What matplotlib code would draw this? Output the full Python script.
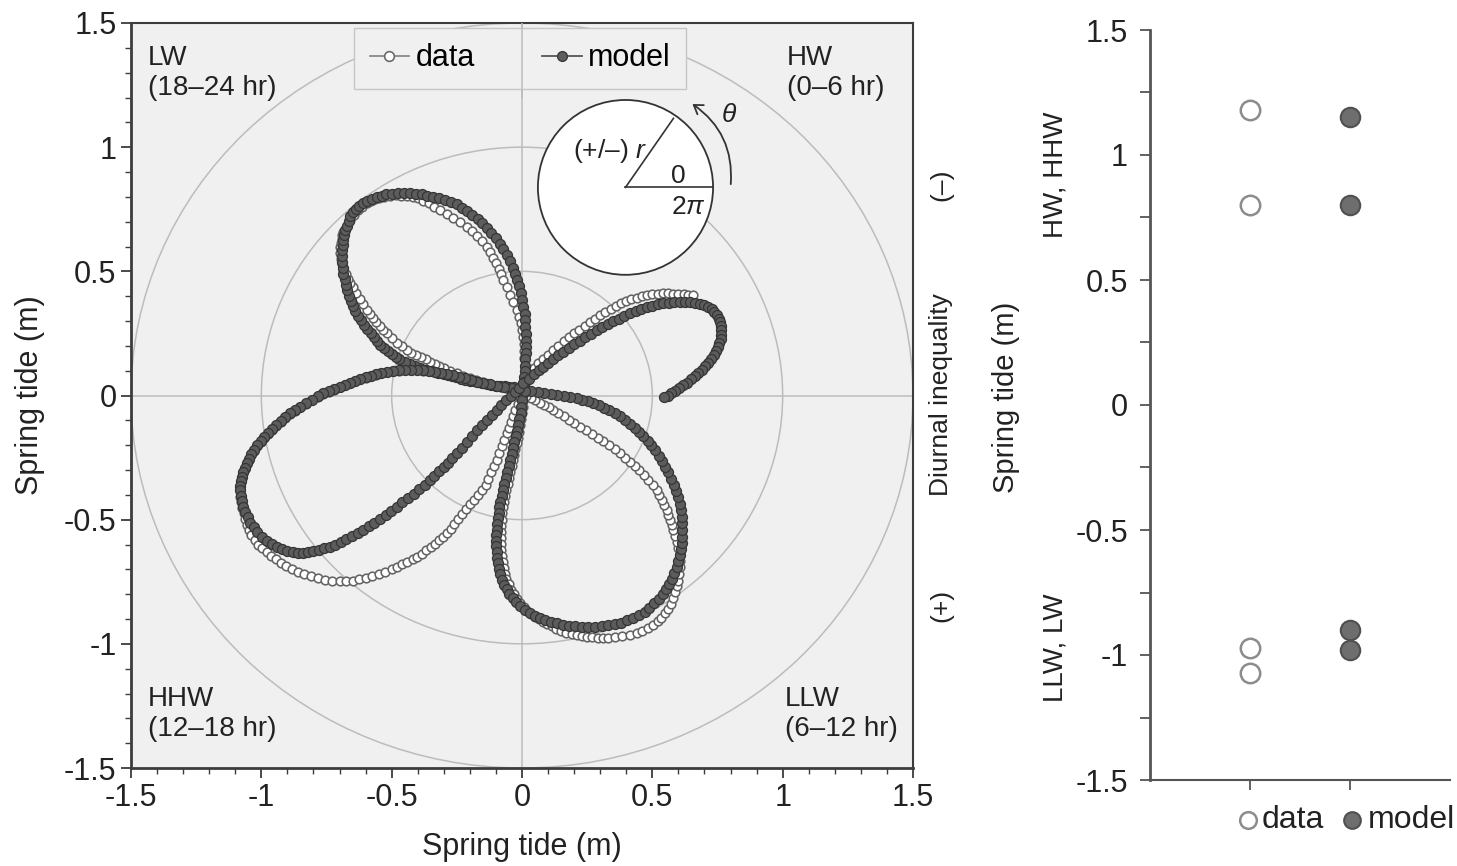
import matplotlib
matplotlib.use('Agg')
import matplotlib.pyplot as plt
from matplotlib.patches import Circle, Ellipse, FancyArrowPatch
from matplotlib.lines import Line2D
from matplotlib.ticker import MultipleLocator

plt.rcParams['font.family'] = ['Liberation Sans', 'DejaVu Sans']
plt.rcParams['mathtext.fontset'] = 'custom'
plt.rcParams['mathtext.rm'] = 'Liberation Sans'
plt.rcParams['mathtext.it'] = 'Liberation Sans:italic'

# ---------------- data (marker positions) ----------------
# model curve (filled markers), ordered along the path
model_pts = [
    (0.01, 0.03), (-0.01, 0.032), (-0.03, 0.033), (-0.048, 0.035), (-0.065, 0.037), (-0.083, 0.039),
    (-0.10, 0.04), (-0.118, 0.044), (-0.135, 0.047), (-0.153, 0.05), (-0.17, 0.053), (-0.185, 0.057),
    (-0.20, 0.06), (-0.218, 0.064), (-0.235, 0.068), (-0.253, 0.073), (-0.27, 0.077), (-0.285, 0.081),
    (-0.30, 0.085), (-0.323, 0.091), (-0.345, 0.097), (-0.368, 0.104), (-0.39, 0.11), (-0.41, 0.119),
    (-0.43, 0.127), (-0.45, 0.136), (-0.47, 0.145), (-0.485, 0.156), (-0.50, 0.167), (-0.515, 0.179),
    (-0.53, 0.19), (-0.543, 0.205), (-0.555, 0.22), (-0.568, 0.235), (-0.58, 0.25), (-0.593, 0.268),
    (-0.605, 0.285), (-0.618, 0.303), (-0.63, 0.32), (-0.639, 0.34), (-0.648, 0.36), (-0.657, 0.38),
    (-0.665, 0.40), (-0.67, 0.423), (-0.675, 0.445), (-0.68, 0.468), (-0.685, 0.49), (-0.688, 0.514),
    (-0.69, 0.537), (-0.69, 0.561), (-0.69, 0.585), (-0.688, 0.605), (-0.685, 0.625), (-0.683, 0.645),
    (-0.68, 0.665), (-0.673, 0.684), (-0.665, 0.703), (-0.658, 0.722), (-0.65, 0.74), (-0.638, 0.753),
    (-0.625, 0.765), (-0.61, 0.775), (-0.595, 0.785), (-0.577, 0.793), (-0.558, 0.80), (-0.539, 0.805),
    (-0.52, 0.81), (-0.498, 0.813), (-0.475, 0.815), (-0.453, 0.815), (-0.43, 0.815), (-0.408, 0.813),
    (-0.385, 0.81), (-0.363, 0.805), (-0.34, 0.80), (-0.318, 0.794), (-0.295, 0.787), (-0.273, 0.779),
    (-0.25, 0.77), (-0.23, 0.756), (-0.21, 0.742), (-0.19, 0.726), (-0.17, 0.71), (-0.153, 0.693),
    (-0.135, 0.675), (-0.118, 0.655), (-0.10, 0.635), (-0.086, 0.612), (-0.072, 0.588), (-0.059, 0.564),
    (-0.045, 0.54), (-0.036, 0.515), (-0.027, 0.49), (-0.019, 0.465), (-0.01, 0.44), (-0.005, 0.413),
    (0.0, 0.385), (0.005, 0.358), (0.01, 0.33), (0.012, 0.303), (0.013, 0.275), (0.014, 0.248),
    (0.015, 0.22), (0.015, 0.195), (0.014, 0.17), (0.013, 0.145), (0.012, 0.12), (0.01, 0.098),
    (0.008, 0.075), (0.007, 0.053), (0.005, 0.03),
    (0.003, 0.005), (0.0, -0.02), (-0.003, -0.045), (-0.005, -0.07), (-0.01, -0.094), (-0.014, -0.118),
    (-0.019, -0.142), (-0.023, -0.165), (-0.029, -0.189), (-0.034, -0.213), (-0.04, -0.237), (-0.045, -0.26),
    (-0.051, -0.284), (-0.057, -0.308), (-0.063, -0.332), (-0.068, -0.355), (-0.073, -0.379), (-0.078, -0.403),
    (-0.083, -0.427), (-0.087, -0.45), (-0.09, -0.473), (-0.093, -0.495), (-0.095, -0.518), (-0.097, -0.54),
    (-0.098, -0.563), (-0.098, -0.585), (-0.098, -0.608), (-0.097, -0.63), (-0.094, -0.653), (-0.091, -0.675),
    (-0.087, -0.698), (-0.083, -0.72), (-0.076, -0.741), (-0.068, -0.762), (-0.059, -0.781), (-0.05, -0.80),
    (-0.036, -0.817), (-0.022, -0.833), (-0.006, -0.848), (0.01, -0.862), (0.03, -0.874), (0.05, -0.886),
    (0.07, -0.896), (0.09, -0.905), (0.113, -0.912), (0.135, -0.918), (0.158, -0.923), (0.18, -0.927),
    (0.205, -0.929), (0.23, -0.931), (0.255, -0.932), (0.28, -0.932), (0.305, -0.929), (0.33, -0.926),
    (0.355, -0.921), (0.38, -0.915), (0.403, -0.905), (0.425, -0.895), (0.448, -0.883), (0.47, -0.87),
    (0.489, -0.854), (0.507, -0.837), (0.524, -0.819), (0.54, -0.80), (0.553, -0.779), (0.565, -0.758),
    (0.575, -0.737), (0.585, -0.715), (0.593, -0.692), (0.60, -0.668), (0.605, -0.644), (0.61, -0.62),
    (0.613, -0.594), (0.615, -0.568), (0.615, -0.542), (0.615, -0.515), (0.613, -0.489), (0.61, -0.462),
    (0.605, -0.436), (0.60, -0.41), (0.591, -0.385), (0.582, -0.36), (0.571, -0.335), (0.56, -0.31),
    (0.549, -0.288), (0.537, -0.265), (0.524, -0.243), (0.51, -0.22), (0.496, -0.201), (0.482, -0.182),
    (0.466, -0.164), (0.45, -0.145), (0.432, -0.129), (0.413, -0.113), (0.394, -0.098), (0.375, -0.083),
    (0.355, -0.072), (0.335, -0.06), (0.315, -0.05), (0.295, -0.04), (0.274, -0.032), (0.253, -0.024),
    (0.232, -0.017), (0.21, -0.01), (0.185, -0.005), (0.16, 0.0), (0.135, 0.004), (0.11, 0.008),
    (0.085, 0.011), (0.06, 0.014), (0.035, 0.017), (0.01, 0.02),
    (-0.015, 0.025), (-0.04, 0.03), (-0.068, 0.035), (-0.095, 0.04), (-0.122, 0.045), (-0.148, 0.049),
    (-0.172, 0.056), (-0.195, 0.062), (-0.219, 0.069), (-0.243, 0.075), (-0.266, 0.081), (-0.289, 0.087),
    (-0.312, 0.091), (-0.335, 0.095), (-0.358, 0.098), (-0.38, 0.101), (-0.403, 0.102), (-0.425, 0.103),
    (-0.448, 0.102), (-0.47, 0.101), (-0.495, 0.099), (-0.519, 0.096), (-0.54, 0.091), (-0.56, 0.085),
    (-0.58, 0.079), (-0.60, 0.073), (-0.62, 0.067), (-0.64, 0.06), (-0.66, 0.052), (-0.68, 0.043),
    (-0.70, 0.035), (-0.72, 0.026), (-0.741, 0.018), (-0.762, 0.009), (-0.784, -0.004), (-0.805, -0.017),
    (-0.828, -0.031), (-0.85, -0.045), (-0.87, -0.059), (-0.89, -0.072), (-0.908, -0.088), (-0.925, -0.103),
    (-0.943, -0.119), (-0.96, -0.135), (-0.975, -0.151), (-0.99, -0.166), (-1.003, -0.183), (-1.015, -0.20),
    (-1.028, -0.219), (-1.04, -0.237), (-1.048, -0.255), (-1.056, -0.273), (-1.063, -0.292), (-1.07, -0.31),
    (-1.074, -0.328), (-1.078, -0.345), (-1.08, -0.363), (-1.082, -0.38), (-1.079, -0.403), (-1.076, -0.425),
    (-1.069, -0.448), (-1.062, -0.47), (-1.053, -0.491), (-1.043, -0.512), (-1.029, -0.531), (-1.015, -0.55),
    (-0.998, -0.568), (-0.98, -0.585), (-0.96, -0.599), (-0.94, -0.612), (-0.92, -0.62), (-0.90, -0.628),
    (-0.88, -0.632), (-0.86, -0.635), (-0.84, -0.634), (-0.82, -0.632), (-0.80, -0.627), (-0.78, -0.622),
    (-0.759, -0.616), (-0.737, -0.609), (-0.716, -0.60), (-0.695, -0.59), (-0.674, -0.578), (-0.652, -0.566),
    (-0.631, -0.554), (-0.609, -0.541), (-0.588, -0.527), (-0.566, -0.512), (-0.545, -0.496), (-0.523, -0.48),
    (-0.502, -0.464), (-0.48, -0.447), (-0.459, -0.43), (-0.437, -0.413), (-0.416, -0.395), (-0.395, -0.377),
    (-0.374, -0.359), (-0.353, -0.34), (-0.336, -0.323), (-0.318, -0.305), (-0.301, -0.288), (-0.284, -0.27),
    (-0.267, -0.252), (-0.25, -0.233), (-0.231, -0.21), (-0.212, -0.186), (-0.193, -0.163), (-0.174, -0.139),
    (-0.155, -0.119), (-0.135, -0.098), (-0.116, -0.078), (-0.097, -0.058), (-0.079, -0.039), (-0.06, -0.02),
    (-0.043, -0.003), (-0.025, 0.015), (-0.01, 0.032), (0.005, 0.049),
    (0.025, 0.067), (0.045, 0.085), (0.064, 0.101), (0.082, 0.116), (0.101, 0.132), (0.12, 0.147),
    (0.14, 0.162), (0.159, 0.177), (0.18, 0.192), (0.20, 0.206), (0.222, 0.221), (0.243, 0.235),
    (0.265, 0.249), (0.286, 0.262), (0.308, 0.275), (0.33, 0.288), (0.351, 0.299), (0.372, 0.31),
    (0.393, 0.321), (0.414, 0.331), (0.436, 0.34), (0.457, 0.348), (0.479, 0.355), (0.50, 0.362),
    (0.521, 0.367), (0.542, 0.371), (0.564, 0.374), (0.585, 0.377), (0.605, 0.378), (0.625, 0.378),
    (0.645, 0.376), (0.665, 0.374), (0.683, 0.369), (0.70, 0.364), (0.714, 0.356), (0.728, 0.348),
    (0.738, 0.337), (0.748, 0.325), (0.754, 0.31), (0.76, 0.295), (0.763, 0.279), (0.765, 0.262),
    (0.764, 0.245), (0.762, 0.228), (0.757, 0.212), (0.752, 0.195), (0.744, 0.179), (0.735, 0.163),
    (0.725, 0.148), (0.714, 0.132), (0.702, 0.118), (0.69, 0.103), (0.677, 0.09), (0.663, 0.077),
    (0.649, 0.065), (0.634, 0.052), (0.619, 0.041), (0.603, 0.029), (0.588, 0.019), (0.572, 0.009),
    (0.559, 0.0), (0.545, -0.008),
]

# observed data curve (open markers), ordered along the path
data_pts = [
    (0.0, 0.02), (-0.025, 0.025), (-0.05, 0.03), (-0.075, 0.035), (-0.10, 0.04), (-0.125, 0.048),
    (-0.15, 0.055), (-0.175, 0.063), (-0.20, 0.07), (-0.225, 0.08), (-0.25, 0.09), (-0.275, 0.10),
    (-0.30, 0.11), (-0.318, 0.119), (-0.335, 0.127), (-0.353, 0.136), (-0.37, 0.145), (-0.388, 0.154),
    (-0.405, 0.163), (-0.424, 0.173), (-0.442, 0.183), (-0.461, 0.198), (-0.48, 0.213), (-0.50, 0.232),
    (-0.519, 0.25), (-0.532, 0.265), (-0.545, 0.28), (-0.559, 0.296), (-0.572, 0.312), (-0.584, 0.328),
    (-0.596, 0.344), (-0.609, 0.367), (-0.622, 0.39), (-0.635, 0.414), (-0.647, 0.438), (-0.658, 0.454),
    (-0.668, 0.47), (-0.677, 0.488), (-0.685, 0.505), (-0.69, 0.528), (-0.695, 0.55), (-0.697, 0.575),
    (-0.698, 0.60), (-0.695, 0.616), (-0.692, 0.632), (-0.689, 0.646), (-0.685, 0.66), (-0.673, 0.684),
    (-0.66, 0.707), (-0.645, 0.726), (-0.63, 0.745), (-0.613, 0.76), (-0.596, 0.774), (-0.58, 0.782),
    (-0.563, 0.79), (-0.547, 0.795), (-0.53, 0.80), (-0.508, 0.803), (-0.485, 0.806), (-0.463, 0.805),
    (-0.44, 0.804), (-0.42, 0.80), (-0.40, 0.795), (-0.379, 0.785), (-0.357, 0.775), (-0.336, 0.761),
    (-0.315, 0.747), (-0.289, 0.731), (-0.263, 0.715), (-0.238, 0.698), (-0.212, 0.68), (-0.192, 0.661),
    (-0.172, 0.642), (-0.154, 0.621), (-0.135, 0.60), (-0.123, 0.578), (-0.11, 0.555), (-0.10, 0.533),
    (-0.09, 0.51), (-0.081, 0.488), (-0.072, 0.465), (-0.059, 0.435), (-0.045, 0.405), (-0.033, 0.375),
    (-0.02, 0.344), (-0.013, 0.317), (-0.005, 0.29), (0.0, 0.264), (0.005, 0.237), (0.007, 0.209),
    (0.008, 0.18), (0.009, 0.15), (0.01, 0.12), (0.01, 0.098), (0.01, 0.075), (0.009, 0.053),
    (0.008, 0.03),
    (0.006, 0.004), (0.003, -0.022), (0.002, -0.046), (0.0, -0.07), (-0.004, -0.095), (-0.008, -0.12),
    (-0.012, -0.145), (-0.015, -0.17), (-0.02, -0.193), (-0.025, -0.215), (-0.03, -0.238), (-0.035, -0.26),
    (-0.04, -0.284), (-0.045, -0.308), (-0.05, -0.332), (-0.055, -0.355), (-0.06, -0.379), (-0.064, -0.403),
    (-0.068, -0.427), (-0.072, -0.45), (-0.075, -0.475), (-0.077, -0.50), (-0.079, -0.525), (-0.08, -0.55),
    (-0.08, -0.574), (-0.08, -0.598), (-0.079, -0.622), (-0.078, -0.645), (-0.074, -0.669), (-0.07, -0.693),
    (-0.065, -0.717), (-0.06, -0.74), (-0.051, -0.761), (-0.042, -0.782), (-0.031, -0.801), (-0.02, -0.82),
    (-0.007, -0.836), (0.007, -0.852), (0.021, -0.866), (0.035, -0.88), (0.05, -0.891), (0.065, -0.902),
    (0.08, -0.911), (0.095, -0.92), (0.114, -0.93), (0.132, -0.94), (0.151, -0.948), (0.17, -0.955),
    (0.19, -0.961), (0.21, -0.966), (0.229, -0.969), (0.248, -0.972), (0.269, -0.974), (0.29, -0.975),
    (0.31, -0.975), (0.33, -0.975), (0.358, -0.972), (0.385, -0.968), (0.413, -0.963), (0.44, -0.958),
    (0.462, -0.948), (0.483, -0.937), (0.502, -0.924), (0.52, -0.91), (0.534, -0.894), (0.548, -0.877),
    (0.559, -0.859), (0.57, -0.84), (0.579, -0.817), (0.588, -0.793), (0.594, -0.769), (0.60, -0.745),
    (0.603, -0.719), (0.605, -0.692), (0.605, -0.666), (0.605, -0.64), (0.60, -0.615), (0.595, -0.59),
    (0.588, -0.566), (0.58, -0.542), (0.574, -0.521), (0.568, -0.50), (0.562, -0.48), (0.555, -0.46),
    (0.546, -0.44), (0.537, -0.42), (0.527, -0.40), (0.517, -0.38), (0.501, -0.36), (0.485, -0.34),
    (0.468, -0.32), (0.45, -0.30), (0.432, -0.283), (0.413, -0.266), (0.395, -0.25), (0.376, -0.233),
    (0.355, -0.217), (0.333, -0.20), (0.312, -0.185), (0.29, -0.17), (0.268, -0.155), (0.245, -0.14),
    (0.223, -0.125), (0.20, -0.11), (0.18, -0.097), (0.16, -0.083), (0.14, -0.071), (0.12, -0.058),
    (0.103, -0.048), (0.085, -0.038), (0.068, -0.029), (0.05, -0.02), (0.033, -0.012), (0.015, -0.003),
    (-0.003, 0.005), (-0.02, 0.012),
    (-0.04, 0.021), (-0.06, 0.03), (-0.08, 0.035), (-0.10, 0.04), (-0.124, 0.046), (-0.148, 0.052),
    (-0.172, 0.058), (-0.195, 0.064), (-0.219, 0.07), (-0.243, 0.076), (-0.266, 0.082), (-0.289, 0.087),
    (-0.312, 0.091), (-0.335, 0.095), (-0.358, 0.098), (-0.38, 0.10), (-0.403, 0.101), (-0.425, 0.102),
    (-0.448, 0.101), (-0.47, 0.10), (-0.495, 0.098), (-0.519, 0.095), (-0.54, 0.09), (-0.56, 0.084),
    (-0.58, 0.078), (-0.60, 0.072), (-0.62, 0.065), (-0.64, 0.058), (-0.66, 0.05), (-0.68, 0.041),
    (-0.70, 0.033), (-0.72, 0.024), (-0.741, 0.015), (-0.762, 0.006), (-0.784, -0.007), (-0.805, -0.02),
    (-0.828, -0.034), (-0.85, -0.048), (-0.87, -0.062), (-0.89, -0.076), (-0.908, -0.092), (-0.925, -0.107),
    (-0.943, -0.124), (-0.96, -0.14), (-0.975, -0.156), (-0.99, -0.172), (-1.003, -0.189), (-1.015, -0.205),
    (-1.028, -0.223), (-1.04, -0.24), (-1.048, -0.258), (-1.056, -0.275), (-1.063, -0.294), (-1.07, -0.312),
    (-1.074, -0.33), (-1.078, -0.347), (-1.08, -0.366), (-1.082, -0.385), (-1.08, -0.408), (-1.078, -0.43),
    (-1.073, -0.453), (-1.068, -0.475), (-1.062, -0.498), (-1.055, -0.52), (-1.047, -0.541), (-1.038, -0.562),
    (-1.025, -0.581), (-1.012, -0.60), (-0.996, -0.616), (-0.98, -0.632), (-0.963, -0.646), (-0.945, -0.66),
    (-0.925, -0.674), (-0.905, -0.688), (-0.883, -0.699), (-0.86, -0.71), (-0.835, -0.719), (-0.81, -0.728),
    (-0.783, -0.736), (-0.756, -0.743), (-0.728, -0.745), (-0.70, -0.747), (-0.675, -0.746), (-0.65, -0.745),
    (-0.625, -0.74), (-0.60, -0.735), (-0.575, -0.728), (-0.55, -0.72), (-0.525, -0.71), (-0.50, -0.70),
    (-0.48, -0.69), (-0.46, -0.68), (-0.44, -0.67), (-0.42, -0.66), (-0.403, -0.649), (-0.385, -0.637),
    (-0.368, -0.624), (-0.35, -0.61), (-0.334, -0.597), (-0.318, -0.583), (-0.304, -0.569), (-0.289, -0.555),
    (-0.274, -0.536), (-0.259, -0.516), (-0.244, -0.497), (-0.229, -0.477), (-0.214, -0.458), (-0.199, -0.438),
    (-0.185, -0.419), (-0.17, -0.399), (-0.155, -0.38), (-0.14, -0.36), (-0.129, -0.335), (-0.118, -0.31),
    (-0.108, -0.285), (-0.097, -0.26), (-0.088, -0.233), (-0.078, -0.205), (-0.069, -0.179), (-0.059, -0.152),
    (-0.051, -0.129), (-0.042, -0.105), (-0.034, -0.082), (-0.025, -0.058), (-0.017, -0.035), (-0.008, -0.012),
    (0.0, 0.012), (0.008, 0.035),
    (0.019, 0.063), (0.03, 0.09), (0.045, 0.11), (0.06, 0.13), (0.08, 0.148), (0.10, 0.165),
    (0.12, 0.183), (0.14, 0.20), (0.16, 0.218), (0.18, 0.235), (0.20, 0.25), (0.22, 0.265),
    (0.24, 0.28), (0.26, 0.295), (0.28, 0.31), (0.30, 0.325), (0.32, 0.338), (0.34, 0.35),
    (0.36, 0.361), (0.38, 0.372), (0.40, 0.38), (0.42, 0.388), (0.44, 0.394), (0.46, 0.40),
    (0.48, 0.404), (0.50, 0.408), (0.52, 0.41), (0.54, 0.411), (0.56, 0.411), (0.58, 0.41),
    (0.60, 0.409), (0.62, 0.407), (0.638, 0.406), (0.655, 0.404),
]

# right panel: extreme water levels (HW, HHW, LLW, LW)
categories = ['data', 'model']
data_extremes = [1.18, 0.80, -0.97, -1.07]
model_extremes = [1.15, 0.80, -0.90, -0.98]

quadrant_labels = ['LW\n(18–24 hr)', 'HW\n(0–6 hr)', 'HHW\n(12–18 hr)', 'LLW\n(6–12 hr)']
grid_radii = [0.5, 1.0, 1.5]

# ---------------- figure ----------------
W, H = 1457, 866
fig = plt.figure(figsize=(W / 100, H / 100), dpi=100)


def fx(px):
    return px / W


def fy(py):
    return 1 - py / H


DARK = '#3c3c3c'
GRID = '#bcbcbc'
TXT = '#222222'

ax = fig.add_axes([fx(131), fy(768), fx(913) - fx(131), fy(23) - fy(768)])
ax.set_xlim(-1.5, 1.5)
ax.set_ylim(-1.5, 1.5)
ax.set_facecolor('#f0f0f0')

for r in grid_radii:
    ax.add_patch(Circle((0, 0), r, fill=False, ec=GRID, lw=1.1, zorder=1))
ax.axhline(0, color=GRID, lw=1.1, zorder=1)
ax.axvline(0, color=GRID, lw=1.1, zorder=1)

dx = [p[0] for p in data_pts]
dy = [p[1] for p in data_pts]
mx = [p[0] for p in model_pts]
my = [p[1] for p in model_pts]
ax.plot(dx, dy, '-', color='#8c8c8c', lw=0.8, zorder=3)
ax.plot(dx, dy, 'o', ls='none', ms=6.2, mfc='white', mec='#646464', mew=1.15, zorder=3.1)
ax.plot(mx, my, '-', color='#404040', lw=1.5, zorder=4)
ax.plot(mx, my, 'o', ls='none', ms=7.2, mfc='#5c5c5c', mec='#353535', mew=0.9, zorder=4.1)

# inset schematic
cx, cy, rx, ry = 0.397, 0.838, 0.336, 0.352
ax.add_patch(Ellipse((cx, cy), 2 * rx, 2 * ry, fc='white', ec='#333333', lw=1.3, zorder=2))
ax.plot([cx, cx + rx], [cy, cy], color='#333333', lw=1.2, zorder=2.5)
ax.plot([cx, 0.581], [cy, 1.116], color='#333333', lw=1.2, zorder=2.5)
ax.text(0.48, 0.985, '(+/–) $r$', ha='right', va='center', fontsize=19, color=TXT, zorder=3)
ax.text(0.598, 0.885, '0', ha='center', va='center', fontsize=19, color=TXT, zorder=3)
ax.text(0.64, 0.76, r'$2\pi$', ha='center', va='center', fontsize=19, color=TXT, zorder=3)
ax.text(0.795, 1.13, r'$\theta$', ha='center', va='center', fontsize=19, color=TXT, zorder=3)
ax.add_patch(FancyArrowPatch((0.80, 0.84), (0.645, 1.18), connectionstyle='arc3,rad=0.3',
                             arrowstyle='->,head_length=6,head_width=4', color='#333333', lw=1.3,
                             zorder=3))

# quadrant labels
qpos = [(-1.435, 1.41), (1.017, 1.41), (-1.435, -1.17), (1.009, -1.17)]
for (qx, qy), txt in zip(qpos, quadrant_labels):
    ax.text(qx, qy, txt, ha='left', va='top', fontsize=20, color=TXT, linespacing=1.2, zorder=3)

# legend
h_data = Line2D([0], [0], color='#8a8a8a', lw=1.3, marker='o', ms=7, mfc='white', mec='#6a6a6a', mew=1.2)
h_model = Line2D([0], [0], color='#555555', lw=1.3, marker='o', ms=7, mfc='#5e5e5e', mec='#383838')
leg = ax.legend([h_data, h_model], categories, ncol=2, loc='upper center',
                bbox_to_anchor=(0.4975, 0.993), borderaxespad=0.0, fontsize=22, frameon=True,
                fancybox=False, handlelength=1.3, handletextpad=0.2, columnspacing=2.2,
                borderpad=0.5, edgecolor='#c6c6c6', facecolor='#f0f0f0', framealpha=1.0)
leg.set_zorder(5)
ax.plot([0, 0], [1.2, 1.5], color=GRID, lw=1.1, zorder=6)

ax.set_xticks([-1.5, -1, -0.5, 0, 0.5, 1, 1.5])
ax.set_xticklabels(['-1.5', '-1', '-0.5', '0', '0.5', '1', '1.5'])
ax.set_yticks([-1.5, -1, -0.5, 0, 0.5, 1, 1.5])
ax.set_yticklabels(['-1.5', '-1', '-0.5', '0', '0.5', '1', '1.5'])
ax.xaxis.set_minor_locator(MultipleLocator(0.1))
ax.yaxis.set_minor_locator(MultipleLocator(0.1))
ax.tick_params(which='major', direction='out', length=7, width=1.3, color=DARK, labelsize=22,
               labelcolor=TXT)
ax.tick_params(which='minor', direction='out', length=4, width=1.0, color=DARK)
for s in ax.spines.values():
    s.set_color(DARK)
    s.set_linewidth(1.5)
ax.spines['left'].set_linewidth(2.0)
ax.spines['bottom'].set_linewidth(2.0)

fig.text(fx(522), fy(847), 'Spring tide (m)', ha='center', va='center', fontsize=22, color=TXT)
fig.text(fx(30), fy(395), 'Spring tide (m)', ha='center', va='center', rotation=90, fontsize=22,
         color=TXT)
fig.text(fx(941), fy(185), '(–)', ha='center', va='center', rotation=90, fontsize=19, color=TXT)
fig.text(fx(941), fy(395), 'Diurnal inequality', ha='center', va='center', rotation=90, fontsize=19,
         color=TXT)
fig.text(fx(941), fy(605), '(+)', ha='center', va='center', rotation=90, fontsize=19, color=TXT)

# ---------------- right panel ----------------
ax2 = fig.add_axes([fx(1150), fy(780), fx(1450) - fx(1150), fy(30) - fy(780)])
ax2.set_xlim(0, 3)
ax2.set_ylim(-1.5, 1.5)
ax2.set_facecolor('white')
ax2.plot([1] * len(data_extremes), data_extremes, 'o', ls='none', ms=14, mfc='white', mec='#8c8c8c',
         mew=1.8, zorder=3)
ax2.plot([2] * len(model_extremes), model_extremes, 'o', ls='none', ms=14, mfc='#6e6e6e',
         mec='#505050', mew=1.5, zorder=3)
for side in ['top', 'right']:
    ax2.spines[side].set_visible(False)
ax2.spines['left'].set_color('#555555')
ax2.spines['left'].set_linewidth(2.0)
ax2.spines['bottom'].set_color('#555555')
ax2.spines['bottom'].set_linewidth(1.5)
ax2.set_yticks([-1.5, -1, -0.5, 0, 0.5, 1, 1.5])
ax2.set_yticklabels(['-1.5', '-1', '-0.5', '0', '0.5', '1', '1.5'])
ax2.yaxis.set_minor_locator(MultipleLocator(0.25))
ax2.set_xticks([1, 2])
ax2.set_xticklabels(['', ''])
ax2.tick_params(which='both', direction='out', length=7, width=1.3, color='#555555', labelsize=22,
                labelcolor=TXT, pad=9)

fig.text(fx(1006), fy(397), 'Spring tide (m)', ha='center', va='center', rotation=90, fontsize=21,
         color=TXT)
fig.text(fx(1056), fy(175), 'HW, HHW', ha='center', va='center', rotation=90, fontsize=20, color=TXT)
fig.text(fx(1056), fy(648), 'LLW, LW', ha='center', va='center', rotation=90, fontsize=20, color=TXT)

fig.add_artist(Line2D([fx(1248)], [fy(820)], marker='o', ms=12, mfc='white', mec='#8c8c8c', mew=1.8,
                      transform=fig.transFigure))
fig.add_artist(Line2D([fx(1352)], [fy(820)], marker='o', ms=12, mfc='#6e6e6e', mec='#505050', mew=1.5,
                      transform=fig.transFigure))
fig.text(fx(1262), fy(820), categories[0], ha='left', va='center', fontsize=23, color=TXT)
fig.text(fx(1368), fy(820), categories[1], ha='left', va='center', fontsize=23, color=TXT)

fig.savefig('out.png', dpi=100)
